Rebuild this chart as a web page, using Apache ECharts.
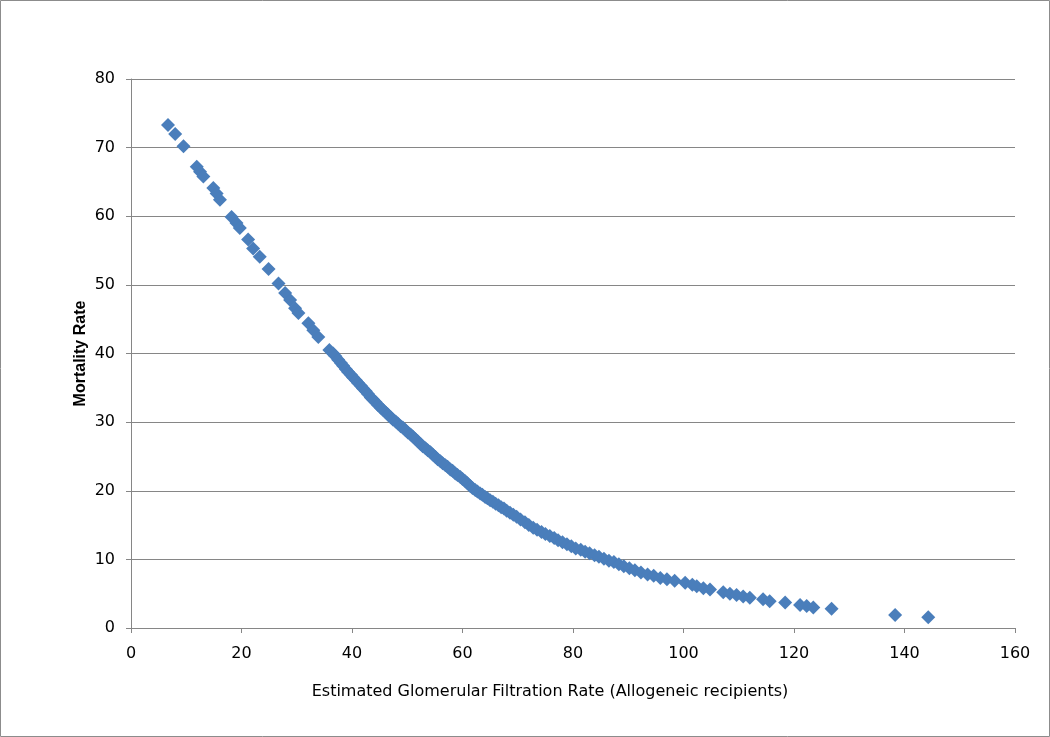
<!DOCTYPE html>
<html>
<head>
<meta charset="utf-8">
<title>Mortality Rate vs eGFR</title>
<script src="https://cdn.jsdelivr.net/npm/echarts@6/dist/echarts.min.js"></script>
<style>
  html, body { margin: 0; padding: 0; background: #fff; }
  #chart1 { width: 1050px; height: 737px; }
</style>
</head>
<body>
<div id="chart1"></div>
<script>
'use strict';

// eGFR (x) and mortality rate (y)
var gfr = [
    6.7, 8.0, 9.5, 11.9, 12.5, 13.1, 14.9, 15.5, 16.1, 18.2, 19.1, 19.7, 21.2, 22.1, 23.3,
    24.9, 26.7, 27.9, 28.8, 29.7, 30.3, 32.1, 33.0, 33.9, 35.9,
    36.6, 37.0, 37.5, 38.0, 38.4, 38.9, 39.3, 39.8, 40.2, 40.7, 41.1, 41.6, 42.0, 42.5, 42.9,
    43.4, 43.8, 44.3, 44.7, 45.2, 45.6, 46.1, 46.5, 47.0, 47.4, 47.9, 48.3, 48.8, 49.2, 49.7,
    50.1, 50.6, 51.0, 51.5, 51.9, 52.4, 52.8, 53.3, 53.7, 54.2, 54.6, 55.1, 55.5, 56.0, 56.4,
    56.9, 57.3, 57.8, 58.2, 58.7, 59.1, 59.6, 60.0, 60.5, 60.9, 61.4, 61.8, 62.3, 62.7, 63.2,
    63.6, 64.1, 64.5, 65.0, 65.5, 66.0, 66.5, 67.0, 67.5, 68.0, 68.6, 69.2, 69.8,
    70.5, 71.3, 72.0, 72.8, 73.5, 74.3, 75.0, 75.8, 76.6, 77.3, 78.1, 78.9, 79.7, 80.5, 81.4,
    82.2, 83.0, 83.9, 84.7, 85.6, 86.5, 87.4, 88.3, 89.2, 90.2, 91.2, 92.3, 93.5, 94.6, 95.8,
    97.0, 98.4, 100.3, 101.6, 102.4,
    103.6, 104.8, 107.2, 108.4, 109.6, 110.8, 112.0, 114.4, 115.6, 118.4, 121.1, 122.3, 123.5,
    126.8, 138.3, 144.3
];
var mortality = [
    73.3, 72.0, 70.2, 67.2, 66.5, 65.8, 64.1, 63.3, 62.4, 59.9, 59.0, 58.3, 56.6, 55.3, 54.1,
    52.3, 50.2, 48.8, 47.8, 46.6, 45.9, 44.4, 43.4, 42.4, 40.5,
    40.0, 39.6, 39.1, 38.6, 38.2, 37.7, 37.3, 36.9, 36.5, 36.1, 35.7, 35.3, 34.9, 34.5, 34.1,
    33.6, 33.3, 32.9, 32.5, 32.1, 31.8, 31.4, 31.1, 30.7, 30.4, 30.1, 29.8, 29.4, 29.2, 28.8,
    28.5, 28.2, 27.9, 27.5, 27.2, 26.8, 26.5, 26.2, 25.9, 25.6, 25.3, 24.9, 24.6, 24.3, 24.0,
    23.7, 23.5, 23.1, 22.9, 22.5, 22.3, 22.0, 21.7, 21.4, 21.1, 20.7, 20.4, 20.1, 19.9, 19.6,
    19.4, 19.1, 18.9, 18.6, 18.4, 18.1, 17.9, 17.6, 17.4, 17.1, 16.8, 16.5, 16.2,
    15.8, 15.4, 15.0, 14.6, 14.3, 14.0, 13.7, 13.4, 13.1, 12.8, 12.5, 12.2, 11.9, 11.6, 11.4,
    11.1, 10.9, 10.6, 10.4, 10.1, 9.8, 9.6, 9.3, 9.0, 8.7, 8.4, 8.1, 7.8, 7.6, 7.3,
    7.1, 6.9, 6.6, 6.3, 6.1,
    5.8, 5.6, 5.2, 5.0, 4.8, 4.6, 4.4, 4.2, 3.9, 3.7, 3.35, 3.2, 3.0,
    2.8, 1.9, 1.55
];

var xTitle = 'Estimated Glomerular Filtration Rate (Allogeneic recipients)';
var yTitle = 'Mortality Rate';

var myChart1 = echarts.init(document.getElementById('chart1'));

var points = gfr.map(function (g, i) {
    return [g, mortality[i]];
});

var option = {
    animation: false,
    backgroundColor: '#fff',
    textStyle: { fontFamily: 'DejaVu Sans' },
    graphic: [{
        type: 'rect',
        shape: { x: 0.5, y: 0.5, width: 1049, height: 736 },
        style: { fill: null, stroke: '#8c8c8c', lineWidth: 1 },
        silent: true
    }],
    grid: { left: 131, right: 35, top: 79, bottom: 109, containLabel: false },
    xAxis: {
        type: 'value',
        min: 0,
        max: 160,
        interval: 20,
        name: xTitle,
        nameLocation: 'middle',
        nameGap: 56,
        nameMoveOverlap: false,
        // title sits a bit left of the plot centre in the original
        nameTextStyle: { color: '#000', fontSize: 16, padding: [0, 46, 0, 0] },
        axisLine: { onZero: false, lineStyle: { color: '#868686', width: 1 } },
        axisTick: { show: true, inside: false, length: 5, lineStyle: { color: '#868686' } },
        axisLabel: { color: '#000', fontSize: 16, margin: 18 },
        splitLine: { show: false }
    },
    yAxis: {
        type: 'value',
        min: 0,
        max: 80,
        interval: 10,
        name: yTitle,
        nameLocation: 'middle',
        nameGap: 42,
        nameMoveOverlap: false,
        nameRotate: 90,
        nameTextStyle: { color: '#000', fontSize: 16, fontWeight: 'bold', fontFamily: 'Liberation Sans Narrow, Liberation Sans' },
        axisLine: { show: true, lineStyle: { color: '#868686', width: 1 } },
        axisTick: { show: true, inside: false, length: 5, lineStyle: { color: '#868686' } },
        axisLabel: { color: '#000', fontSize: 16, margin: 16 },
        splitLine: { show: true, lineStyle: { color: '#868686', width: 1 } }
    },
    series: [{
        type: 'scatter',
        symbol: 'diamond',
        symbolSize: 14,
        itemStyle: { color: '#4a7ebb', opacity: 1 },
        data: points
    }]
};

myChart1.setOption(option);
</script>
</body>
</html>
